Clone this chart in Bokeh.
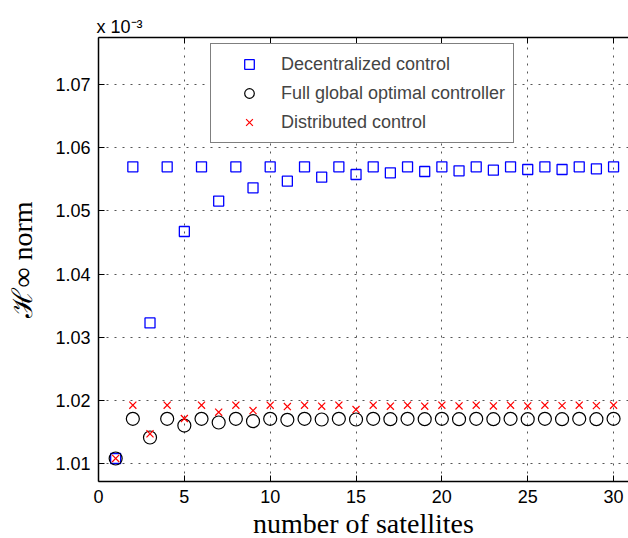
from bokeh.plotting import figure
from bokeh.models import (Range1d, LinearAxis, FixedTicker, NumeralTickFormatter,
                          Legend, LegendItem, Title)
from bokeh.embed import file_html
from bokeh.resources import INLINE

satellites = [1, 2, 3, 4, 5, 6, 7, 8, 9, 10, 11, 12, 13, 14, 15,
              16, 17, 18, 19, 20, 21, 22, 23, 24, 25, 26, 27, 28, 29, 30]
decentralized = [1.01084, 1.05695, 1.03227, 1.05695, 1.04673, 1.05695, 1.05153, 1.05695,
                 1.05363, 1.05695, 1.05469, 1.05695, 1.05532, 1.05695, 1.05574, 1.05695,
                 1.05600, 1.05695, 1.05621, 1.05695, 1.05632, 1.05695, 1.05642, 1.05695,
                 1.05653, 1.05695, 1.05653, 1.05695, 1.05663, 1.05695]
full_global = [1.01084, 1.01711, 1.01416, 1.01711, 1.01605, 1.01711, 1.01653, 1.01711,
               1.01674, 1.01711, 1.01695, 1.01711, 1.01700, 1.01711, 1.01700, 1.01711,
               1.01705, 1.01711, 1.01705, 1.01711, 1.01705, 1.01711, 1.01705, 1.01711,
               1.01705, 1.01711, 1.01705, 1.01711, 1.01705, 1.01711]
distributed = [1.01084, 1.01926, 1.01474, 1.01926, 1.01716, 1.01926, 1.01816, 1.01926,
               1.01842, 1.01926, 1.01905, 1.01926, 1.01910, 1.01926, 1.01858, 1.01926,
               1.01910, 1.01926, 1.01910, 1.01926, 1.01915, 1.01926, 1.01915, 1.01926,
               1.01915, 1.01926, 1.01920, 1.01926, 1.01920, 1.01926]
x_ticks = [0, 5, 10, 15, 20, 25, 30]
y_ticks = [1.01, 1.02, 1.03, 1.04, 1.05, 1.06, 1.07]
series_names = ["Decentralized control", "Full global optimal controller", "Distributed control"]

TICK_FONT = "Liberation Sans"
SERIF = "Liberation Serif"

p = figure(frame_width=530, frame_height=444, output_backend="svg", toolbar_location=None,
           x_range=Range1d(0, 30.87), y_range=Range1d(1.0072, 1.0774),
           min_border_left=98, min_border_right=0, min_border_top=37, min_border_bottom=57,
           title=Title(text="x 10⁻³", align="left", text_font=TICK_FONT,
                       text_font_size="18px", text_font_style="normal",
                       text_color="black", standoff=2, offset=-2))
p.outline_line_color = None
p.background_fill_color = "white"
p.border_fill_color = "white"

for ax in (p.xaxis[0], p.yaxis[0]):
    ax.major_tick_in = 6
    ax.major_tick_out = 0
    ax.minor_tick_line_color = None
    ax.axis_line_width = 1.5
    ax.axis_line_color = "black"
    ax.major_tick_line_color = "black"
    ax.major_label_text_font = TICK_FONT
    ax.major_label_text_font_size = "18px"
    ax.major_label_text_color = "black"
    ax.major_label_standoff = 8
    ax.axis_label_text_font = "'Liberation Serif', 'DejaVu Serif', serif"
    ax.axis_label_text_font_style = "normal"
    ax.axis_label_text_font_size = "28px"
    ax.axis_label_text_color = "black"

p.xaxis[0].ticker = FixedTicker(ticks=x_ticks)
p.yaxis[0].ticker = FixedTicker(ticks=y_ticks)
p.yaxis[0].formatter = NumeralTickFormatter(format="0.00")
p.xaxis[0].axis_label = "number of satellites"
p.xaxis[0].axis_label_standoff = 2
p.yaxis[0].axis_label = "ℋ∞ norm"
p.yaxis[0].axis_label_standoff = 14

top = LinearAxis(ticker=FixedTicker(ticks=x_ticks), major_tick_in=6, major_tick_out=0,
                 minor_tick_line_color=None, axis_line_width=1.5,
                 major_label_overrides={t: "" for t in x_ticks}, major_label_standoff=0)
p.add_layout(top, "above")

p.xgrid.ticker = FixedTicker(ticks=x_ticks)
p.ygrid.ticker = FixedTicker(ticks=y_ticks)
for g in (p.xgrid, p.ygrid):
    g.grid_line_color = "#555555"
    g.grid_line_dash = "2 6"
    g.grid_line_width = 1

r1 = p.scatter(satellites, decentralized, marker="square", size=10, fill_color=None,
               line_color="#0000ff", line_width=1.3)
r2 = p.scatter(satellites, full_global, marker="circle", size=13, fill_color=None,
               line_color="black", line_width=1.2)
r3 = p.scatter(satellites, distributed, marker="x", size=10,
               line_color="#ff0000", line_width=1.2)

legend = Legend(items=[LegendItem(label=series_names[0], renderers=[r1]),
                       LegendItem(label=series_names[1], renderers=[r2]),
                       LegendItem(label=series_names[2], renderers=[r3])],
                location=(112, 338), padding=8, spacing=5, glyph_width=60, glyph_height=24,
                label_height=24, label_standoff=2, label_text_font=TICK_FONT,
                label_text_font_size="18px", border_line_color="black", border_line_width=1,
                background_fill_color="white", background_fill_alpha=1, margin=0)
p.add_layout(legend, "center")

open("out.html", "w").write(file_html(p, INLINE))
